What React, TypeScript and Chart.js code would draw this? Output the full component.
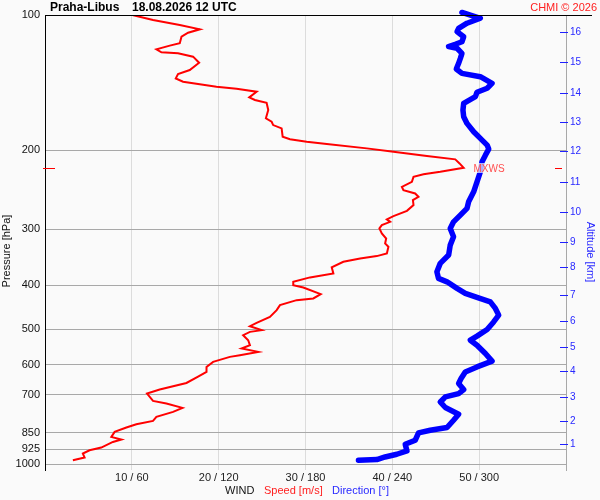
import React, { useRef, useEffect } from 'react';
import { Chart, registerables } from 'chart.js';

Chart.register(...registerables);

const FONT = "'Liberation Sans', Arial, sans-serif";

// left axis pressure levels [hPa]
const pressureTicks = [100, 200, 300, 400, 500, 600, 700, 850, 925, 1000];
// wind speed ticks [m/s] (direction = speed * 6)
const speedTicks = [10, 20, 30, 40, 50];
// right axis: altitude labels [km] and the pressure level where each one sits
const altitudeKm = [1, 2, 3, 4, 5, 6, 7, 8, 9, 10, 11, 12, 13, 14, 15, 16];
const altitudePressure = [902.8, 802.3, 709.4, 620.8, 548.9, 480.2, 420.2, 364.2, 320.3, 274.7, 235.4, 200.9, 173.1, 149.2, 127.3, 109.1];

// wind speed profile
const speedPressure = [
  100, 102.6, 105.3, 107.6, 109.5, 111.8, 115.6, 117.0, 119.2, 121.1, 121.7, 123.8, 127.7, 132.6, 135.3, 138.4,
  140.8, 144.4, 145.9, 148.2, 152.5, 154.6, 156.8, 162.8, 169.8, 172.8, 175.8, 178.8, 186.6, 189.1, 191.5, 193.8,
  198.1, 201.6, 206.1, 209.6, 214.0, 218.8, 223.4, 226.3, 229.2, 235.1, 241.3, 245.4, 249.6, 254.0, 258.2, 264.9,
  272.9, 280.4, 285.1, 288.7, 293.6, 298.6, 306.4, 314.4, 322.5, 328.1, 339.4, 344.1, 348.2, 354.3, 364.6, 376.0,
  383.8, 392.6, 399.3, 404.1, 418.2, 427.5, 431.3, 442.5, 454.0, 469.9, 484.6, 492.9, 503.0, 507.4, 516.1, 529.5,
  543.3, 552.5, 562.2, 571.8, 576.8, 591.8, 607.3, 623.1, 638.1, 659.3, 681.9, 696.1, 722.8, 732.5, 749.2, 764.7,
  784.6, 800.9, 814.5, 828.5, 847.4, 869.4, 881.0, 891.9, 918.0, 930.8, 946.8, 966.2, 979.7,
];
const speedValues = [
  10.06, 12.44, 15.52, 17.83, 16.48, 15.72, 15.52, 14.37, 12.83, 13.41, 15.32, 17.05, 17.75, 16.67, 15.32, 15.06,
  15.9, 19.75, 22.06, 24.37, 23.52, 24.17, 25.52, 25.71, 25.44, 26.1, 26.28, 27.25, 27.37, 28.21, 30.14, 32.45,
  37.06, 40.13, 43.98, 47.25, 47.74, 48.21, 45.52, 43.59, 42.44, 42.25, 41.1, 41.28, 42.63, 43.01, 42.37, 42.44,
  41.68, 40.13, 39.37, 39.75, 38.79, 38.51, 38.79, 39.29, 39.17, 39.55, 39.37, 38.21, 36.29, 34.36, 33.02, 33.21,
  30.52, 28.59, 28.59, 29.75, 31.75, 30.9, 28.98, 27.06, 26.68, 25.9, 24.37, 23.6, 24.95, 23.6, 22.82, 23.4,
  23.6, 22.64, 24.55, 22.44, 21.29, 19.36, 18.6, 18.6, 17.63, 16.29, 13.21, 11.75, 12.44, 13.98, 15.83, 14.75,
  12.83, 12.44, 10.52, 9.37, 8.02, 7.64, 8.79, 7.82, 6.48, 5.13, 4.36, 4.56, 3.21,
];

// wind direction profile
const dirPressure = [
  98.7, 101.7, 104.3, 107.1, 108.9, 111.8, 114.7, 116.2, 117.6, 118.6, 121.7, 124.9, 128.1, 131.9, 134.9, 137.2,
  142.0, 145.6, 148.6, 152.0, 157.3, 162.8, 168.5, 174.3, 181.9, 188.2, 194.8, 198.8, 205.1, 212.2, 223.4, 235.1,
  247.5, 260.5, 269.5, 279.0, 288.7, 298.6, 311.7, 325.3, 342.3, 357.2, 372.9, 385.8, 392.6, 406.1, 416.7, 425.3,
  435.0, 450.0, 465.7, 482.2, 501.2, 518.7, 529.5, 543.3, 566.9, 589.6, 607.3, 623.1, 644.6, 661.4, 681.9, 696.1,
  708.3, 726.6, 747.7, 774.0, 798.2, 828.5, 840.1, 851.8, 884.3, 902.6, 934.2, 950.1, 963.4, 976.3, 979.7,
];
const dirValues = [
  288.1, 300.8, 291.6, 285.8, 284.7, 289.3, 288.1, 283.5, 278.9, 284.7, 288.1, 287.0, 285.8, 284.2, 288.1, 300.8,
  308.9, 305.5, 298.5, 297.4, 289.3, 288.8, 289.3, 291.6, 296.2, 300.8, 305.5, 306.6, 304.3, 302.0, 300.8, 298.5,
  296.2, 292.7, 291.6, 287.0, 282.3, 280.0, 282.3, 280.0, 278.9, 273.1, 270.8, 271.9, 277.8, 284.7, 290.4, 298.5,
  307.7, 311.2, 313.5, 310.0, 305.5, 298.5, 293.9, 298.5, 304.3, 308.9, 298.5, 290.4, 287.5, 285.8, 289.3, 285.8,
  276.6, 273.1, 276.6, 285.8, 282.3, 277.8, 266.2, 258.1, 255.8, 248.9, 250.1, 243.1, 235.0, 229.3, 216.6,
];

// maximum wind level
const mxwsPressure = 219;
const mxwsSpeed = 48.2;

const decorations = {
  id: 'decorations',
  beforeDraw(chart: any) {
    const { ctx, width, height } = chart;
    ctx.save();
    ctx.fillStyle = '#fafafa';
    ctx.fillRect(0, 0, width, height);
    ctx.restore();
  },
  afterDraw(chart: any) {
    const { ctx, chartArea: a, scales } = chart;
    ctx.save();

    // top frame line
    ctx.fillStyle = '#000';
    ctx.fillRect(a.left, Math.round(a.top), 592 - a.left, 1);

    // altitude tick marks
    ctx.fillStyle = '#2020ff';
    altitudePressure.forEach((p) => {
      const y = Math.round(scales.y2.getPixelForValue(p));
      ctx.fillRect(a.right - 6, y, 8, 1);
    });

    // MXWS markers
    const my = Math.round(scales.y.getPixelForValue(mxwsPressure));
    const mx = scales.x.getPixelForValue(mxwsSpeed);
    ctx.fillStyle = '#ff0000';
    ctx.fillRect(a.left - 2, my, 12, 1);
    ctx.fillRect(a.right - 11, my, 7, 1);
    ctx.font = `10px ${FONT}`;
    const tw = ctx.measureText('MXWS').width;
    ctx.fillStyle = 'rgba(250,250,250,0.7)';
    ctx.fillRect(mx + 10, my - 5, tw, 10);
    ctx.fillStyle = '#ff5050';
    ctx.textBaseline = 'middle';
    ctx.textAlign = 'left';
    ctx.fillText('MXWS', mx + 10, my + 1);

    // header
    ctx.fillStyle = '#000';
    ctx.font = `bold 12px ${FONT}`;
    ctx.fillText('Praha-Libus', 50, 8);
    ctx.fillText('18.08.2026 12 UTC', 132, 8);
    ctx.fillStyle = '#ff2020';
    ctx.font = `11px ${FONT}`;
    ctx.textAlign = 'right';
    ctx.fillText('CHMI © 2026', 597, 8);

    // axis titles
    ctx.textAlign = 'center';
    ctx.fillStyle = '#111';
    ctx.save();
    ctx.translate(7, 251);
    ctx.rotate(-Math.PI / 2);
    ctx.fillText('Pressure [hPa]', 0, 0);
    ctx.restore();
    ctx.fillStyle = '#2828ff';
    ctx.save();
    ctx.translate(590, 252);
    ctx.rotate(Math.PI / 2);
    ctx.fillText('Altitude [km]', 0, 0);
    ctx.restore();

    // bottom legend
    ctx.textAlign = 'left';
    ctx.fillStyle = '#111';
    ctx.fillText('WIND', 225, 491);
    ctx.fillStyle = '#ff2020';
    ctx.fillText('Speed [m/s]', 264, 491);
    ctx.fillStyle = '#2828ff';
    ctx.fillText('Direction [°]', 332, 491);

    ctx.restore();
  },
};

const App = () => {
  const canvasRef = useRef<any>(null);
  const chartRef = useRef<any>(null);

  useEffect(() => {
    document.body.style.margin = '0';
    if (!canvasRef.current) return;
    if (chartRef.current) chartRef.current.destroy();

    chartRef.current = new Chart(canvasRef.current.getContext('2d'), {
      type: 'scatter',
      data: {
        datasets: [
          {
            label: 'Speed',
            data: speedPressure.map((p, i) => ({ x: speedValues[i], y: p })),
            xAxisID: 'x',
            yAxisID: 'y',
            showLine: true,
            borderColor: '#ff0000',
            borderWidth: 2,
            pointRadius: 0,
            fill: false,
          },
          {
            label: 'Direction',
            data: dirPressure.map((p, i) => ({ x: dirValues[i], y: p })),
            xAxisID: 'xd',
            yAxisID: 'y',
            showLine: true,
            borderColor: '#0000ff',
            borderWidth: 5.5,
            borderJoinStyle: 'round',
            borderCapStyle: 'round',
            pointRadius: 0,
            fill: false,
            clip: false,
          },
        ],
      },
      options: {
        animation: false,
        responsive: false,
        devicePixelRatio: 1,
        layout: { padding: { top: 15, left: 0, right: 0, bottom: 0 } },
        plugins: {
          legend: { display: false },
          title: { display: false },
          tooltip: { enabled: false },
        },
        scales: {
          x: {
            type: 'linear',
            position: 'bottom',
            min: 0,
            max: 60,
            afterFit: (s: any) => { s.height = 30; },
            afterBuildTicks: (s: any) => { s.ticks = [0, ...speedTicks, 60].map((v) => ({ value: v })); },
            ticks: {
              autoSkip: false,
              maxRotation: 0,
              padding: 1,
              color: '#222',
              font: { family: FONT, size: 11 },
              callback: (v: any) => (speedTicks.includes(v) ? `${v} / ${v * 6}` : ''),
            },
            grid: { color: '#dcdcdc', drawTicks: false },
            border: { display: false },
          },
          xd: { type: 'linear', display: false, min: 0, max: 360 },
          y: {
            type: 'logarithmic',
            position: 'left',
            reverse: true,
            min: 100,
            max: 1030,
            afterFit: (s: any) => { s.width = 45; },
            afterBuildTicks: (s: any) => { s.ticks = pressureTicks.map((v) => ({ value: v })); },
            ticks: {
              autoSkip: false,
              padding: 5,
              color: '#111',
              font: { family: FONT, size: 11 },
              callback: (v: any) => String(v),
            },
            grid: { color: '#a8a8a8', drawTicks: false },
            border: { color: '#000' },
          },
          y2: {
            type: 'logarithmic',
            position: 'right',
            reverse: true,
            min: 100,
            max: 1030,
            afterFit: (s: any) => { s.width = 34; },
            afterBuildTicks: (s: any) => { s.ticks = altitudePressure.map((v) => ({ value: v })); },
            ticks: {
              autoSkip: false,
              padding: 4,
              color: '#2828ff',
              font: { family: FONT, size: 10 },
              callback: (_v: any, i: number) => String(altitudeKm[i]),
            },
            grid: { drawOnChartArea: false, drawTicks: false },
            border: { color: '#a8a8a8' },
          },
        },
      } as any,
      plugins: [decorations],
    });

    return () => {
      if (chartRef.current) {
        chartRef.current.destroy();
        chartRef.current = null;
      }
    };
  }, []);

  return (
    <div>
      <canvas ref={canvasRef} width={600} height={500} style={{ display: 'block' }} />
    </div>
  );
};

export default App;
